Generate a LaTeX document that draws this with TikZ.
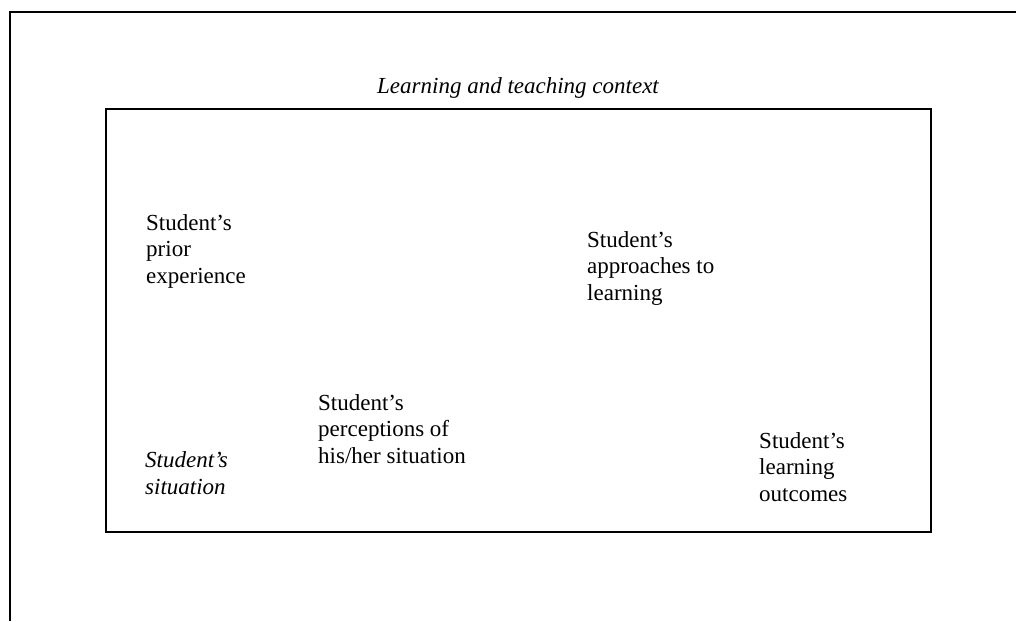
\documentclass[tikz,border=0pt]{standalone}
\usepackage{fontspec}
\setmainfont{Liberation Serif}
\usepackage{tikz}

\begin{document}
\begin{tikzpicture}[x=1pt,y=-1pt,
    lbl/.style={anchor=base west,align=left,inner sep=0pt,font=\fontsize{23}{26.5}\selectfont},
    frame/.style={line width=1.5pt}]
                \useasboundingbox (0,0) rectangle (1016,621);
                \draw[frame] (1016,12) -- (10,12) -- (10,621);
                \draw[frame] (106,109) rectangle (931,532) ;
                \node[lbl,anchor=base,font=\fontsize{23}{26.5}\selectfont\itshape] (ctx) at (518,93) {Learning and teaching context};
                \node[lbl] (prior) at (146,283) {Student’s\\prior\\experience};
                \node[lbl] (appr) at (587,300) {Student’s\\approaches to\\learning};
                \node[lbl] (perc) at (318,463) {Student’s\\perceptions of\\his/her situation};
                \node[lbl] (outc) at (759,501) {Student’s\\learning\\outcomes};
                \node[lbl,font=\fontsize{23}{27}\selectfont\itshape] (sit) at (145,494) {Student’s\\situation};
            \end{tikzpicture}
\end{document}
